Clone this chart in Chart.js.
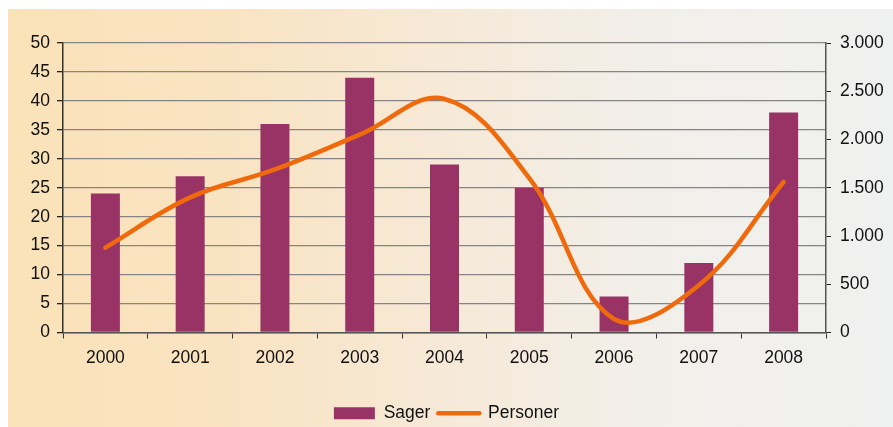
<!DOCTYPE html>
<html>
<head>
<meta charset="utf-8">
<script src="https://cdn.jsdelivr.net/npm/chart.js@4"></script>
<style>
    html, body { margin: 0; padding: 0; background: #ffffff; }
    #panel {
        position: absolute; left: 8px; top: 9px; width: 885px; height: 418px;
        background: linear-gradient(to right, #fae2b8 0%, #f9e4c2 25%, #f6e9d8 50%, #f2efe9 72%, #eff1f0 100%);
    }
    #wrap { position: absolute; left: 0; top: 0; width: 893px; height: 427px; }
</style>
</head>
<body>
<div id="panel"></div>
<div id="wrap"><canvas id="chart" width="893" height="427"></canvas></div>
<script>
const years = ["2000", "2001", "2002", "2003", "2004", "2005", "2006", "2007", "2008"];
const sager = [24, 27, 36, 44, 29, 25, 6.2, 12, 38];
const personer = [880, 1400, 1690, 2050, 2420, 1600, 140, 490, 1560];

const leftTicks = { min: 0, max: 50, step: 5 };
const rightTicks = { min: 0, max: 3000, step: 500 };

const barColor = "#993366";
const lineColor = "#ef6a0c";
const textColor = "#111111";
const fontFamily = "'Liberation Sans', Arial, sans-serif";

function danish(value) {
    return value.toLocaleString("da-DK");
}

new Chart(document.getElementById("chart"), {
    data: {
        labels: years,
        datasets: [
            {
                type: "bar",
                label: "Sager",
                data: sager,
                yAxisID: "y",
                backgroundColor: barColor,
                borderWidth: 0,
                categoryPercentage: 1,
                barPercentage: 0.342,
                order: 2
            },
            {
                type: "line",
                label: "Personer",
                data: personer,
                yAxisID: "y1",
                borderColor: lineColor,
                backgroundColor: lineColor,
                borderWidth: 4.5,
                borderCapStyle: "round",
                pointRadius: 0,
                tension: 0.38,
                fill: false,
                order: 1
            }
        ]
    },
    options: {
        responsive: false,
        animation: false,
        layout: {
            padding: { top: 43, left: 0, right: 0, bottom: -5 }
        },
        plugins: {
            tooltip: { enabled: false },
            legend: {
                display: true,
                position: "bottom",
                labels: {
                    usePointStyle: true,
                    pointStyleWidth: 41,
                    boxHeight: 12,
                    padding: 8,
                    color: textColor,
                    font: { family: fontFamily, size: 17.5 },
                    generateLabels: function (chart) {
                        return chart.data.datasets.map(function (ds, i) {
                            const isLine = ds.type === "line";
                            return {
                                text: ds.label,
                                fillStyle: isLine ? ds.borderColor : ds.backgroundColor,
                                strokeStyle: isLine ? ds.borderColor : ds.backgroundColor,
                                lineWidth: isLine ? 4.5 : 0,
                                lineCap: "round",
                                pointStyle: isLine ? "line" : "rect",
                                fontColor: textColor,
                                hidden: false,
                                datasetIndex: i
                            };
                        });
                    }
                }
            }
        },
        scales: {
            x: {
                offset: true,
                grid: {
                    offset: true,
                    drawOnChartArea: false,
                    tickColor: "#333333",
                    tickLength: 6
                },
                border: { color: "#555555", width: 1.5 },
                ticks: {
                    color: textColor,
                    padding: 9,
                    font: { family: fontFamily, size: 17.5 }
                },
                afterFit: function (scale) { scale.height = 64; }
            },
            y: {
                type: "linear",
                position: "left",
                min: leftTicks.min,
                max: leftTicks.max,
                grid: {
                    color: "#858585",
                    lineWidth: 1.3,
                    tickColor: "#222222",
                    tickLength: 6
                },
                border: { color: "#333333", width: 1.5 },
                ticks: {
                    stepSize: leftTicks.step,
                    color: textColor,
                    padding: 7,
                    font: { family: fontFamily, size: 17.5 }
                },
                afterFit: function (scale) { scale.width = 63; }
            },
            y1: {
                type: "linear",
                position: "right",
                min: rightTicks.min,
                max: rightTicks.max,
                grid: {
                    drawOnChartArea: false,
                    tickColor: "#222222",
                    tickLength: 5
                },
                border: { color: "#555555", width: 1.5 },
                ticks: {
                    stepSize: rightTicks.step,
                    color: textColor,
                    padding: 9,
                    font: { family: fontFamily, size: 17.5 },
                    callback: function (value) { return danish(value); }
                },
                afterFit: function (scale) { scale.width = 67; }
            }
        }
    }
});
</script>
</body>
</html>
